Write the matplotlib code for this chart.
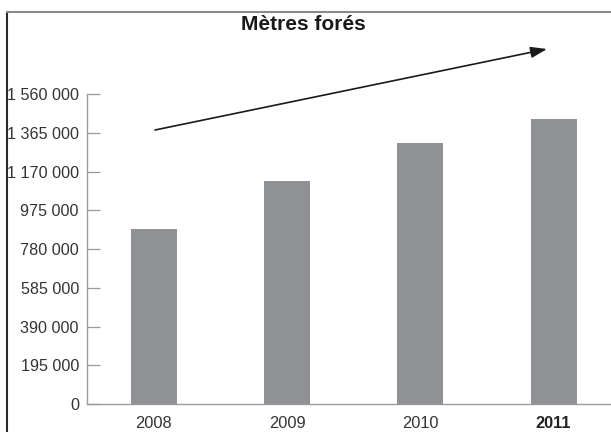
import matplotlib
matplotlib.use("Agg")
import matplotlib.pyplot as plt
from matplotlib.lines import Line2D
from matplotlib.patches import FancyArrowPatch

# Data
years = ["2008", "2009", "2010", "2011"]
metres = [879000, 1124000, 1315000, 1433000]
yticks = [0, 195000, 390000, 585000, 780000, 975000, 1170000, 1365000, 1560000]
ytick_labels = ["0", "195 000", "390 000", "585 000", "780 000", "975 000",
                "1 170 000", "1 365 000", "1 560 000"]
title = "Mètres forés"

plt.rcParams['font.family'] = ['Liberation Sans', 'DejaVu Sans']

W, H = 611, 432
fig = plt.figure(figsize=(W / 100, H / 100), dpi=100)
fig.patch.set_facecolor("white")

# Axes placement (pixels -> fractions)
ax_left, ax_right, ax_bottom, ax_top = 87, 611, 404, 94
ax = fig.add_axes([ax_left / W, 1 - ax_bottom / H,
                   (ax_right - ax_left) / W, (ax_bottom - ax_top) / H])

x = list(range(len(years)))
ax.bar(x, metres, width=0.345, color="#909194", edgecolor="none", zorder=2)

ax.set_ylim(0, 1560000)
cat_px = 133.3
ax.set_xlim(-0.5, (ax_right - ax_left) / cat_px - 0.5)

ax.set_yticks(yticks)
ax.set_yticklabels(ytick_labels)
ax.set_xticks(x)
ax.set_xticklabels(years)

for s in ["top", "right"]:
    ax.spines[s].set_visible(False)
for s in ["left", "bottom"]:
    ax.spines[s].set_color("#9a9a9a")
    ax.spines[s].set_linewidth(1.0)

ax.tick_params(axis="y", direction="in", length=9.4, width=0.9, color="#9a9a9a",
               pad=5.8, labelsize=11.6, labelcolor="#333333")
ax.tick_params(axis="x", length=0, pad=8.5, labelsize=11.8, labelcolor="#333333")
ax.get_xticklabels()[-1].set_fontweight("bold")
ax.get_xticklabels()[-1].set_color("#222222")

# Title
fig.text(303.5 / W, 1 - 24.5 / H, title, ha="center", va="center",
         fontsize=15, fontweight="bold", color="#1a1a1a")

# Trend arrow
fig.add_artist(FancyArrowPatch(
    (155 / W, 1 - 130 / H), (547 / W, 1 - 49 / H),
    transform=fig.transFigure, arrowstyle="-|>,head_length=7,head_width=2.4",
    mutation_scale=1.4, color="#1a1a1a", linewidth=1.2, shrinkA=0, shrinkB=0))

# Frame border (left dark, top gray)
fig.add_artist(Line2D([7.5 / W, 7.5 / W], [0, 1 - 11.5 / H], transform=fig.transFigure,
                      color="#2a2a2a", linewidth=1.5))
fig.add_artist(Line2D([7 / W, 1], [1 - 11.5 / H, 1 - 11.5 / H], transform=fig.transFigure,
                      color="#8a8a8a", linewidth=1.5))

fig.savefig("out.png", dpi=100)
